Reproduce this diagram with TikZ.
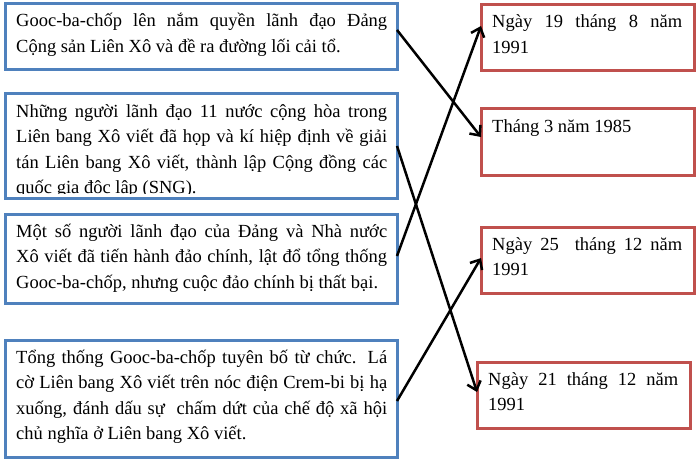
\documentclass[tikz,border=0pt]{standalone}
\usepackage{fontspec}
\setmainfont{Liberation Serif}
\usetikzlibrary{arrows.meta}
\definecolor{evtblue}{RGB}{79,129,189}
\definecolor{datered}{RGB}{192,80,77}
\newcommand{\jl}[2][371pt]{\makebox[#1][s]{#2}}

\begin{document}
\begin{tikzpicture}[x=1pt, y=-1pt,
  evt/.style={draw=evtblue, line width=3pt, fill=white, inner sep=0pt, outer sep=0pt, anchor=north west, minimum width=392pt},
  date/.style={draw=datered, line width=3pt, fill=white, inner sep=0pt, outer sep=0pt, anchor=north west, minimum width=213pt, minimum height=66pt},
  txt/.style={anchor=base west, inner sep=0pt, align=left, font={\fontsize{18.5}{25.5}\selectfont}},
  link/.style={line width=2.5pt, -{Straight Barb[length=8pt,width=14pt]}}]
\useasboundingbox (0,0) rectangle (698,468);

% events
\node[evt, minimum height=66pt] (l1) at (5,4) {};
\node[evt, minimum height=104pt] (l2) at (5,94) {};
\node[evt, minimum height=89pt] (l3) at (5,214) {};
\node[evt, minimum height=117pt] (l4) at (5,340) {};

% dates
\node[date] (r1) at (481,5) {};
\node[date] (r2) at (481,109) {};
\node[date] (r3) at (481,227) {};
\node[date] (r4) at (477,362) {};

% texts (base = last line)
\node[txt] at ([shift={(11,48.5)}]l1.north west) {\jl{Gooc-ba-chốp lên nắm quyền lãnh đạo Đảng}\\Cộng sản Liên Xô và đề ra đường lối cải tổ.};
\begin{scope}
\clip (l2.north west) rectangle ([yshift=5pt]l2.south east);
\node[txt] at ([shift={(11,99.5)}]l2.north west) {\jl{Những người lãnh đạo 11 nước cộng hòa trong}\\\jl{Liên bang Xô viết đã họp và kí hiệp định về giải}\\\jl{tán Liên bang Xô viết, thành lập Cộng đồng các}\\quốc gia độc lập (SNG).};
\end{scope}
\node[txt] at ([shift={(11,74)}]l3.north west) {\jl{Một số người lãnh đạo của Đảng và Nhà nước}\\\jl{Xô viết đã tiến hành đảo chính, lật đổ tổng thống}\\Gooc-ba-chốp, nhưng cuộc đảo chính bị thất bại.};
\node[txt] at ([shift={(11,99.5)}]l4.north west) {\jl{Tổng thống Gooc-ba-chốp tuyên bố từ chức. Lá}\\\jl{cờ Liên bang Xô viết trên nóc điện Crem-bi bị hạ}\\\jl{xuống, đánh dấu sự~ chấm dứt của chế độ xã hội}\\chủ nghĩa ở Liên bang Xô viết.};

\node[txt] at ([shift={(11,48.5)}]r1.north west) {\jl[190pt]{Ngày 19 tháng 8 năm}\\1991};
\node[txt] at ([shift={(11,23)}]r2.north west) {Tháng 3 năm 1985};
\node[txt] at ([shift={(11,48.5)}]r3.north west) {\jl[190pt]{Ngày 25~ tháng 12 năm}\\1991};
\node[txt] at ([shift={(11,48.5)}]r4.north west) {\jl[190pt]{Ngày 21 tháng 12 năm}\\1991};

% matching
\draw[link] ([yshift=7pt]l1.east) -- ([yshift=5pt]r2.west);
\draw[link] (l2.east) -- ([yshift=3pt]r4.west);
\draw[link] ([yshift=2.5pt]l3.east) -- ([yshift=12pt]r1.west);
\draw[link] ([yshift=-2.5pt]l4.east) -- ([yshift=2pt]r3.west);
\end{tikzpicture}
\end{document}
